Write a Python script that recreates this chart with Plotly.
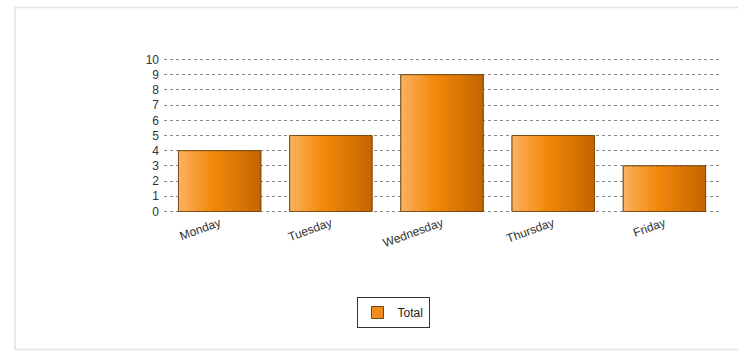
import plotly.graph_objects as go

days = ["Monday", "Tuesday", "Wednesday", "Thursday", "Friday"]
totals = [4, 5, 9, 5, 3]
series_name = "Total"

W, H = 738, 351
ML, MR, MT, MB = 164, 18, 58, 138
BW = 0.74
N = 30

def lerp(c1, c2, t):
    return tuple(round(a + (b - a) * t) for a, b in zip(c1, c2))

stops = [(0.0, (250, 178, 96)), (0.4, (244, 138, 12)), (1.0, (196, 100, 0))]

def grad(t):
    for (p0, c0), (p1, c1) in zip(stops[:-1], stops[1:]):
        if t <= p1:
            return lerp(c0, c1, (t - p0) / (p1 - p0))
    return stops[-1][1]

fig = go.Figure()
# base bar (legend entry)
fig.add_trace(go.Bar(x=days, y=totals, name=series_name, width=BW,
                     marker=dict(color="rgb(240,140,30)", line=dict(color="#6b4a20", width=1)),
                     showlegend=True))
sw = BW / N
for i in range(N):
    c = grad((i + 0.5) / N)
    fig.add_trace(go.Bar(x=days, y=totals, width=sw * 1.15, offset=-BW / 2 + i * sw,
                         marker=dict(color="rgb(%d,%d,%d)" % c, line=dict(width=0)),
                         showlegend=False, hoverinfo="skip"))
# outline
fig.add_trace(go.Bar(x=days, y=totals, width=BW,
                     marker=dict(color="rgba(0,0,0,0)", line=dict(color="rgba(110,70,20,0.8)", width=1)),
                     showlegend=False, hoverinfo="skip"))

pw = W - ML - MR
ph = H - MT - MB
fig.add_shape(type="rect", xref="paper", yref="paper",
              x0=(15 - ML) / pw, x1=(W + 5 - ML) / pw,
              y0=(H - MB - 349.5) / ph, y1=(H - MB - 7.5) / ph,
              line=dict(color="#e2e2e2", width=1.5), layer="below")

fig.update_layout(
    width=W, height=H,
    margin=dict(l=ML, r=MR, t=MT, b=MB),
    paper_bgcolor="white", plot_bgcolor="white",
    barmode="overlay",
    font=dict(family="Arial, Liberation Sans, sans-serif", size=12, color="#333"),
    showlegend=True,
    legend=dict(x=(393 - ML) / pw, xanchor="center", y=-(297 - (H - MB)) / ph, yanchor="top",
                bordercolor="#333", borderwidth=1, bgcolor="white",
                font=dict(size=12, color="#222"), itemwidth=30),
    xaxis=dict(showgrid=False, showline=False, ticks="", tickangle=-20,
               tickfont=dict(size=12, color="#333")),
    yaxis=dict(range=[-0.1, 10.1], dtick=1, showgrid=True, gridcolor="#888", griddash="dot",
               gridwidth=1, zeroline=False, showline=False, ticks="", ticklabelstandoff=4,
               tickfont=dict(size=12, color="#333")),
)

fig.write_html("out.html")
